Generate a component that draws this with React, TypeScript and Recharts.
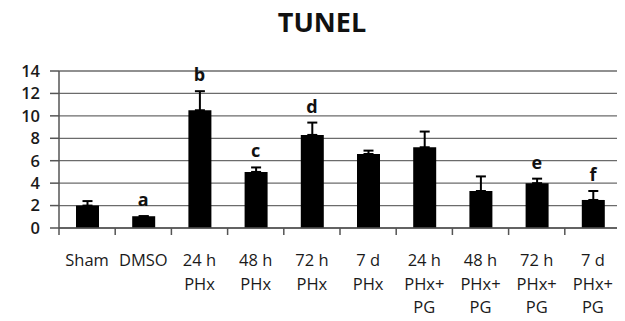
import { ComposedChart, Bar, Line, XAxis, YAxis, CartesianGrid, ErrorBar, LabelList } from "recharts";

const groups = [
  "Sham",
  "DMSO",
  "24 h\nPHx",
  "48 h\nPHx",
  "72 h\nPHx",
  "7 d\nPHx",
  "24 h\nPHx+\nPG",
  "48 h\nPHx+\nPG",
  "72 h\nPHx+\nPG",
  "7 d\nPHx+\nPG",
];
const means = [2.0, 1.05, 10.5, 5.0, 8.3, 6.6, 7.2, 3.3, 4.0, 2.5];
const errors = [0.4, 0, 1.7, 0.4, 1.1, 0.3, 1.4, 1.3, 0.4, 0.8];
const letters = ["", "a", "b", "c", "d", "", "", "", "e", "f"];
const yTicks = [0, 2, 4, 6, 8, 10, 12, 14];

const data = groups.map((g, i) => ({
  name: g,
  mean: means[i],
  err: [0, errors[i]],
  top: means[i] + errors[i],
  letter: letters[i],
}));

const FONT = "'Open Sans', 'DejaVu Sans', sans-serif";
const AXIS = "#555";

function CategoryTick(props: any) {
  const { x, y, payload, index } = props;
  const half = payload?.offset ?? 28;
  const lines = String(payload.value).split("\n");
  return (
    <g>
      <line x1={x - half} y1={y - 7} x2={x - half} y2={y} stroke={AXIS} strokeWidth={1.5} />
      {index === groups.length - 1 && (
        <line x1={x + half} y1={y - 7} x2={x + half} y2={y} stroke={AXIS} strokeWidth={1.5} />
      )}
      <text textAnchor="middle" fontFamily={FONT} fontSize={16.5} fill="#1a1a1a">
        {lines.map((l, i) => (
          <tspan key={i} x={x} y={y + 31 + i * 23.5}>
            {l}
          </tspan>
        ))}
      </text>
    </g>
  );
}

export default function App() {
  return (
    <div style={{ margin: -8, position: "relative", width: 625, height: 321, background: "#fff" }}>
      <svg width={625} height={50} style={{ position: "absolute", left: 0, top: 0 }}>
        <text x={322} y={32} textAnchor="middle" fontFamily={FONT} fontWeight={700} fontSize={27} fill="#111">
          TUNEL
        </text>
      </svg>
      <ComposedChart
        width={625}
        height={321}
        data={data}
        margin={{ top: 71, right: 4, bottom: 0, left: 0 }}
      >
        <CartesianGrid vertical={false} stroke="#6b6b6b" strokeWidth={1.3} />
        <XAxis
          dataKey="name"
          interval={0}
          height={93}
          tickLine={false}
          tickSize={7}
          tickMargin={0}
          stroke={AXIS}
          strokeWidth={1.5}
          tick={<CategoryTick />}
        />
        <YAxis
          domain={[0, 14]}
          ticks={yTicks}
          interval={0}
          width={59}
          tickSize={9}
          tickMargin={10}
          stroke={AXIS}
          strokeWidth={1.5}
          tick={{ fontFamily: FONT, fontSize: 16.5, fontWeight: 600, fill: "#1a1a1a" }}
        />
        <Bar dataKey="mean" fill="#000" barSize={23} isAnimationActive={false}>
          <ErrorBar dataKey="err" width={5} stroke="#000" strokeWidth={2} direction="y" />
        </Bar>
        <Line
          dataKey="top"
          stroke="none"
          dot={false}
          activeDot={false}
          isAnimationActive={false}
        >
          <LabelList
            dataKey="letter"
            position="top"
            offset={10}
            fontFamily={FONT}
            fontSize={18}
            fontWeight={700}
            fill="#111"
          />
        </Line>
      </ComposedChart>
    </div>
  );
}
